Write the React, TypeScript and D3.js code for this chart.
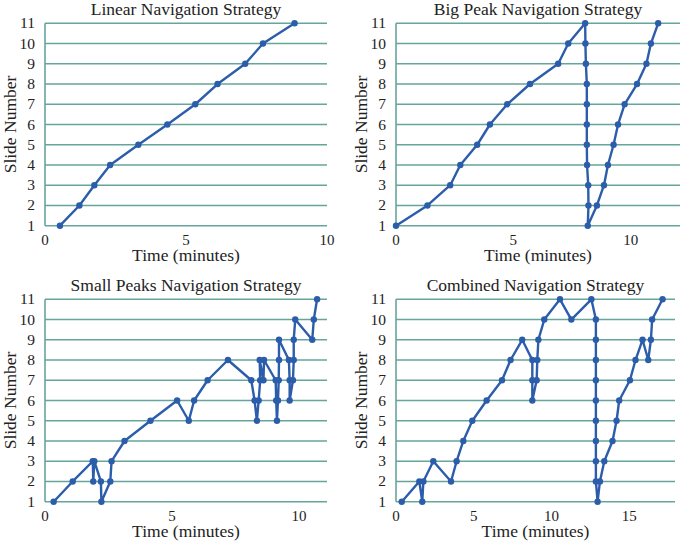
import { useEffect, useRef } from 'react';
import * as d3 from 'd3';

// Linear strategy
const linearTimes = [0.53, 1.22, 1.75, 2.31, 3.31, 4.34, 5.33, 6.12, 7.1, 7.73, 8.85];
const linearSlides = [1, 2, 3, 4, 5, 6, 7, 8, 9, 10, 11];

// Big peak strategy
const bigPeakTimes = [
  0, 1.34, 2.31, 2.74, 3.46, 4.0, 4.74, 5.71, 6.91, 7.34, 8.06,
  8.07, 8.09, 8.13, 8.13, 8.13, 8.13, 8.14, 8.19, 8.2, 8.17,
  8.56, 8.86, 9.03, 9.27, 9.46, 9.74, 10.27, 10.67, 10.86, 11.17,
];
const bigPeakSlides = [
  1, 2, 3, 4, 5, 6, 7, 8, 9, 10, 11,
  10, 9, 8, 7, 6, 5, 4, 3, 2, 1,
  2, 3, 4, 5, 6, 7, 8, 9, 10, 11,
];

// Small peaks strategy
const smallPeaksTimes = [
  0.34, 1.09, 1.88, 1.9, 1.94, 2.2, 2.22, 2.57, 2.62, 3.13, 4.15, 5.2, 5.66, 5.87, 6.4, 7.2,
  8.12, 8.25, 8.34, 8.41, 8.47, 8.45, 8.6, 8.62,
  9.08, 9.1, 9.13, 9.17, 9.2, 9.21, 9.21,
  9.6, 9.63, 9.63, 9.76, 9.79, 9.79, 9.85,
  10.52, 10.58, 10.71,
];
const smallPeaksSlides = [
  1, 2, 3, 2, 3, 2, 1, 2, 3, 4, 5, 6, 5, 6, 7, 8,
  7, 6, 5, 6, 7, 8, 7, 8,
  7, 6, 5, 6, 7, 8, 9,
  8, 7, 6, 7, 8, 9, 10,
  9, 10, 11,
];

// Combined strategy
const combinedTimes = [
  0.37, 1.5, 1.69, 1.76, 2.4, 3.54, 3.9, 4.33, 4.91, 5.83, 6.82, 7.37, 8.12,
  8.77, 8.77, 8.77, 9.05, 9.09, 9.16, 9.54, 10.55, 11.28, 12.57,
  12.86, 12.86, 12.86, 12.86, 12.86, 12.86, 12.86, 12.86, 12.86, 12.97,
  13.12, 13.4, 13.93, 14.19, 14.36, 15.05, 15.41, 15.86, 16.23, 16.4, 16.48, 17.15,
];
const combinedSlides = [
  1, 2, 1, 2, 3, 2, 3, 4, 5, 6, 7, 8, 9,
  8, 7, 6, 7, 8, 9, 10, 11, 10, 11,
  10, 9, 8, 7, 6, 5, 4, 3, 2, 1,
  2, 3, 4, 5, 6, 7, 8, 9, 8, 9, 10, 11,
];

const slideTicks = [1, 2, 3, 4, 5, 6, 7, 8, 9, 10, 11];

interface Panel {
  title: string;
  times: number[];
  slides: number[];
  maxTime: number;
  timeTicks: number[];
  left: number;
  right: number;
  top: number;
  bottom: number;
}

const panels: Panel[] = [
  { title: 'Linear Navigation Strategy', times: linearTimes, slides: linearSlides, maxTime: 10, timeTicks: [0, 5, 10], left: 45, right: 327, top: 23.3, bottom: 225.7 },
  { title: 'Big Peak Navigation Strategy', times: bigPeakTimes, slides: bigPeakSlides, maxTime: 12.1, timeTicks: [0, 5, 10], left: 396, right: 680, top: 23.3, bottom: 225.7 },
  { title: 'Small Peaks Navigation Strategy', times: smallPeaksTimes, slides: smallPeaksSlides, maxTime: 11.1, timeTicks: [0, 5, 10], left: 45, right: 327, top: 299.3, bottom: 501.7 },
  { title: 'Combined Navigation Strategy', times: combinedTimes, slides: combinedSlides, maxTime: 17.95, timeTicks: [0, 5, 10, 15], left: 396, right: 675, top: 299.3, bottom: 501.7 },
];

const gridColor = '#66a59b';
const lineColor = '#2b5dab';
const textColor = '#222';
const font = '"Liberation Serif", "DejaVu Serif", serif';

export default function App() {
  const svgRef = useRef<SVGSVGElement>(null);

  useEffect(() => {
    if (!svgRef.current) return;
    const svg = d3.select(svgRef.current);
    svg.selectAll('*').remove();

    panels.forEach((p) => {
      const x = d3.scaleLinear().domain([0, p.maxTime]).range([p.left, p.right]);
      const y = d3.scaleLinear().domain([1, 11]).range([p.bottom, p.top]);
      const g = svg.append('g');

      // horizontal grid
      g.selectAll('.grid')
        .data(slideTicks)
        .enter()
        .append('line')
        .attr('x1', p.left)
        .attr('x2', p.right)
        .attr('y1', (d) => y(d))
        .attr('y2', (d) => y(d))
        .attr('stroke', gridColor)
        .attr('stroke-width', 1.6);

      // left axis line
      g.append('line')
        .attr('x1', p.left)
        .attr('x2', p.left)
        .attr('y1', p.top)
        .attr('y2', p.bottom)
        .attr('stroke', gridColor)
        .attr('stroke-width', 1.6);

      // y tick labels
      g.selectAll('.ylab')
        .data(slideTicks)
        .enter()
        .append('text')
        .attr('x', p.left - 10)
        .attr('y', (d) => y(d) + 5)
        .attr('text-anchor', 'end')
        .attr('font-size', 15.5)
        .attr('font-family', font)
        .attr('fill', textColor)
        .text((d) => d);

      // x tick labels
      g.selectAll('.xlab')
        .data(p.timeTicks)
        .enter()
        .append('text')
        .attr('x', (d) => x(d))
        .attr('y', p.bottom + 19)
        .attr('text-anchor', 'middle')
        .attr('font-size', 15)
        .attr('font-family', font)
        .attr('fill', textColor)
        .text((d) => d);

      // title
      g.append('text')
        .attr('x', (p.left + p.right) / 2)
        .attr('y', p.top - 8.5)
        .attr('text-anchor', 'middle')
        .attr('font-size', 17.5)
        .attr('font-family', font)
        .attr('fill', textColor)
        .text(p.title);

      // x axis label
      g.append('text')
        .attr('x', (p.left + p.right) / 2)
        .attr('y', p.bottom + 35)
        .attr('text-anchor', 'middle')
        .attr('font-size', 17.5)
        .attr('font-family', font)
        .attr('fill', textColor)
        .text('Time (minutes)');

      // y axis label
      const cy = (p.top + p.bottom) / 2;
      const lx = p.left - 29;
      g.append('text')
        .attr('transform', `translate(${lx},${cy}) rotate(-90)`)
        .attr('text-anchor', 'middle')
        .attr('font-size', 17.5)
        .attr('font-family', font)
        .attr('fill', textColor)
        .text('Slide Number');

      const pts = p.times.map((t, i) => [t, p.slides[i]] as [number, number]);
      const line = d3
        .line<[number, number]>()
        .x((d) => x(d[0]))
        .y((d) => y(d[1]));

      g.append('path')
        .datum(pts)
        .attr('fill', 'none')
        .attr('stroke', lineColor)
        .attr('stroke-width', 2.4)
        .attr('stroke-linejoin', 'round')
        .attr('d', line);

      g.selectAll('.dot')
        .data(pts)
        .enter()
        .append('circle')
        .attr('cx', (d) => x(d[0]))
        .attr('cy', (d) => y(d[1]))
        .attr('r', 3.2)
        .attr('fill', lineColor);
    });
  }, []);

  return (
    <svg
      ref={svgRef}
      width={680}
      height={542}
      style={{ position: 'absolute', left: 0, top: 0, background: '#fff' }}
    />
  );
}
